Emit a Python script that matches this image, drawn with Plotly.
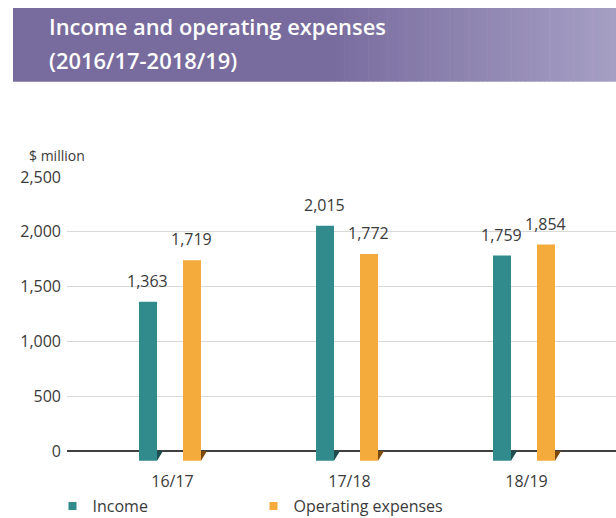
import plotly.graph_objects as go

# ---------------- data ----------------
categories = ["16/17", "17/18", "18/19"]
income = [1363, 2015, 1759]
expenses = [1719, 1772, 1854]
series_names = ["Income", "Operating expenses"]
y_ticks = [0, 500, 1000, 1500, 2000, 2500]
y_tick_labels = ["0", "500", "1,000", "1,500", "2,000", "2,500"]
title_lines = ["Income and operating expenses", "(2016/17-2018/19)"]
unit_label = "$ million"

# ---------------- layout geometry ----------------
W, H = 616, 518
ML, MR, MT, MB = 67, 0, 177, 48
PW, PH = W - ML - MR, H - MT - MB

def px_x(px):
    return (px - ML) / PW

def px_y(py):
    return (H - MB - py) / PH

# back plane (gridlines) scale
K1 = 0.1096           # px per unit
ZERO1 = 451           # px of 0 on back plane
Y_MIN = -(H - MB - ZERO1) / K1
Y_MAX = Y_MIN + PH / K1
# front plane (bar faces) scale
K2 = 0.1166
ZERO2 = 460.7
Y2_MIN = -(H - MB - ZERO2) / K2
Y2_MAX = Y2_MIN + PH / K2
FRONT0_ON_BACK = -(ZERO2 - ZERO1) / K1

CAT_PX = 177.0
X_MIN = -(172.5 - ML) / CAT_PX
X_MAX = X_MIN + PW / CAT_PX
BAR_W = 18 / CAT_PX
OFFS = [-33.5 / CAT_PX, 10.5 / CAT_PX]
SIDE_W = 6 / CAT_PX

TEAL, ORANGE = "#318a8c", "#f5aa3c"
TEAL_D, ORANGE_D = "#1c4e50", "#7d4a0e"
TXT = "#3a3a3a"
FONT = "Open Sans"

x_idx = list(range(len(categories)))

fig = go.Figure()
for vals, name, col, dark, off in zip([income, expenses], series_names,
                                      [TEAL, ORANGE], [TEAL_D, ORANGE_D], OFFS):
    fig.add_trace(go.Bar(
        x=x_idx, y=vals, name=name, yaxis="y2", width=BAR_W, offset=off,
        marker=dict(color=col, line_width=0), showlegend=False,
        hovertemplate=name + ": %{y:,}<extra></extra>"))
    tx, ty = [], []
    for i in x_idx:
        xr = i + off + BAR_W
        tx += [xr, xr + SIDE_W, xr, None]
        ty += [0, 0, FRONT0_ON_BACK, None]
    fig.add_trace(go.Scatter(x=tx, y=ty, fill="toself", fillcolor=dark,
                             mode="none", showlegend=False, hoverinfo="skip"))
    fig.add_trace(go.Scatter(x=[None], y=[None], mode="markers", name=name,
                             marker=dict(symbol="square", size=8, color=col)))

annotations = []
for vals, off in zip([income, expenses], OFFS):
    for i, v in zip(x_idx, vals):
        annotations.append(dict(
            x=i + off + BAR_W / 2, y=v, xref="x", yref="y2", text=f"{v:,}",
            showarrow=False, yanchor="middle", yshift=21, xshift=-1,
            font=dict(family=FONT, size=16, color=TXT)))

annotations.append(dict(x=px_x(27), y=px_y(155), xref="paper", yref="paper",
                        text=unit_label, showarrow=False, xanchor="left",
                        yanchor="middle",
                        font=dict(family=FONT, size=14, color=TXT)))
for line, cy in zip(title_lines, [26.5, 60.0]):
    annotations.append(dict(x=px_x(46.5), y=px_y(cy), xref="paper", yref="paper",
                            text=line, showarrow=False,
                            xanchor="left", yanchor="middle",
                            font=dict(family=FONT, size=21.9, color="white",
                                      weight=600)))

# header band with gradient
shapes = [dict(type="rect", xref="paper", yref="paper",
               x0=px_x(13), x1=px_x(330), y0=px_y(81.7), y1=px_y(8),
               fillcolor="#786c9e", line_width=0, layer="below")]
c0 = (0x78, 0x6c, 0x9e)
c1 = (0xa6, 0x9f, 0xc4)
N = 60
for k in range(N):
    t = (k + 0.5) / N
    c = tuple(round(a + (b - a) * t) for a, b in zip(c0, c1))
    xa = 330 + (W - 330) * k / N
    xb = 330 + (W - 330) * (k + 1) / N + 0.6
    shapes.append(dict(type="rect", xref="paper", yref="paper",
                       x0=px_x(xa), x1=px_x(xb), y0=px_y(81.7), y1=px_y(8),
                       fillcolor="rgb(%d,%d,%d)" % c, line_width=0, layer="below"))

fig.update_layout(
    width=W, height=H,
    margin=dict(l=ML, r=MR, t=MT, b=MB, pad=0, autoexpand=False),
    paper_bgcolor="white", plot_bgcolor="white",
    font=dict(family=FONT, size=16, color=TXT),
    xaxis=dict(range=[X_MIN, X_MAX], tickvals=x_idx, ticktext=categories,
               showgrid=False, zeroline=False, showline=False, ticks="",
               tickfont=dict(size=16, color=TXT), fixedrange=True),
    yaxis=dict(range=[Y_MIN, Y_MAX], tickvals=y_ticks, ticktext=y_tick_labels,
               showgrid=True, gridcolor="#d9d9d9", gridwidth=1,
               zeroline=True, zerolinecolor="#404040", zerolinewidth=1.5,
               showline=False, ticks="", ticklabelstandoff=5,
               tickfont=dict(size=16, color=TXT)),
    yaxis2=dict(range=[Y2_MIN, Y2_MAX], overlaying="y", showgrid=False,
                zeroline=False, showticklabels=False, showline=False, ticks=""),
    legend=dict(orientation="h", x=px_x(52.5), y=px_y(506), xanchor="left",
                yanchor="middle", font=dict(size=16, color=TXT),
                entrywidth=156, itemwidth=30, bgcolor="rgba(0,0,0,0)"),
    annotations=annotations,
    shapes=shapes,
    showlegend=True,
)

fig.write_html("out.html", config={"displayModeBar": False},
               post_script="document.body.style.margin='0';"
                           "document.body.style.padding='0';")
